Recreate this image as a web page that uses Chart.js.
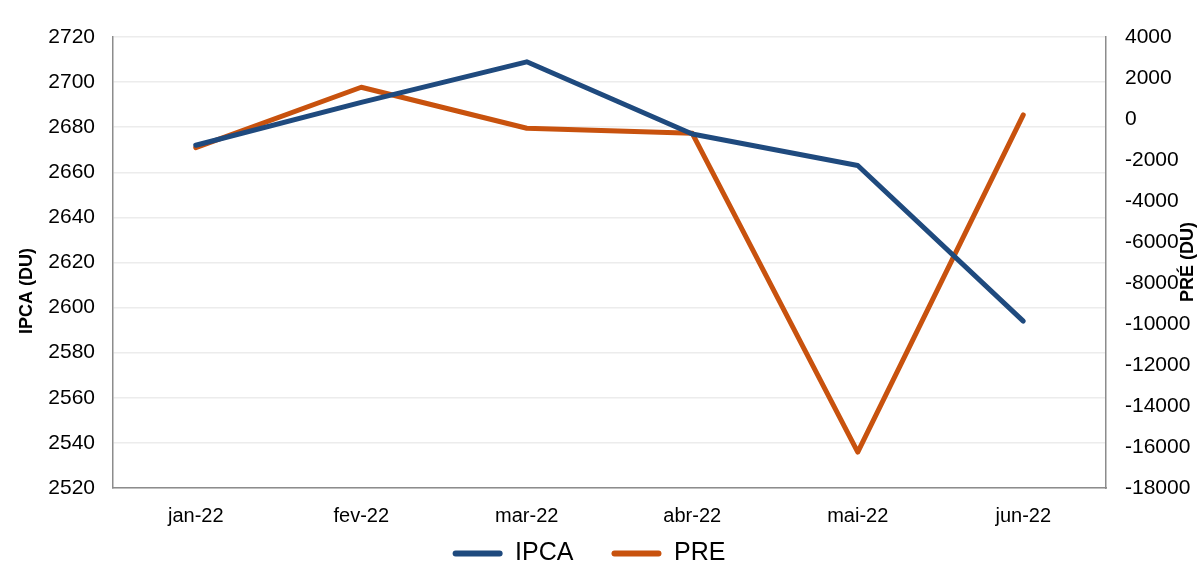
<!DOCTYPE html>
<html>
<head>
<meta charset="utf-8">
<script src="https://cdn.jsdelivr.net/npm/chart.js@4/dist/chart.umd.min.js"></script>
<style>
  html, body { margin: 0; padding: 0; background: #fff; }
  #wrap { width: 1198px; height: 567px; }
</style>
</head>
<body>
<div id="wrap"><canvas id="chart" width="1198" height="567"></canvas></div>
<script>
// Data
const months = ['jan-22', 'fev-22', 'mar-22', 'abr-22', 'mai-22', 'jun-22'];
const ipcaValues = [2672, 2691, 2709, 2677, 2663, 2594];
const preValues = [-1400, 1550, -450, -700, -16250, 200];

const BLUE = '#1F4A7E';
const ORANGE = '#C8520E';
const FONT = '"Liberation Sans", Arial, sans-serif';

// Axis titles drawn by hand (right one reads bottom-to-top) + legend nudge
const extras = {
  id: 'extras',
  afterLayout(chart) {
    const lg = chart.legend;
    if (!lg) return;
    const dx = -10, dy = -30;
    lg.left += dx; lg.right += dx;
    lg.top += dy;
    lg.bottom = chart.height;
  },
  afterDraw(chart) {
    const ctx = chart.ctx;
    const title = (text, x, y) => {
      ctx.save();
      ctx.fillStyle = '#000';
      ctx.font = 'bold 18px ' + FONT;
      ctx.textAlign = 'center';
      ctx.textBaseline = 'middle';
      ctx.translate(x, y);
      ctx.rotate(-Math.PI / 2);
      ctx.fillText(text, 0, 0);
      ctx.restore();
    };
    title('IPCA (DU)', 27, 291);
    title('PRÉ (DU)', 1188, 262);
  }
};

new Chart(document.getElementById('chart').getContext('2d'), {
  type: 'line',
  data: {
    labels: months,
    datasets: [
      {
        label: 'IPCA',
        data: ipcaValues,
        yAxisID: 'y',
        borderColor: BLUE,
        backgroundColor: BLUE,
        borderWidth: 5,
        borderCapStyle: 'round',
        borderJoinStyle: 'round',
        pointRadius: 0,
        tension: 0
      },
      {
        label: 'PRE',
        data: preValues,
        yAxisID: 'y2',
        borderColor: ORANGE,
        backgroundColor: ORANGE,
        borderWidth: 5,
        borderCapStyle: 'round',
        borderJoinStyle: 'round',
        pointRadius: 0,
        tension: 0
      }
    ]
  },
  options: {
    responsive: false,
    animation: false,
    layout: { padding: { top: 37, left: 0, right: 0, bottom: 0 } },
    plugins: {
      tooltip: { enabled: false },
      legend: {
        position: 'bottom',
        maxHeight: 34,
        labels: {
          boxWidth: 50,
          boxHeight: 6,
          useBorderRadius: true,
          borderRadius: 3,
          padding: 38,
          color: '#000',
          font: { family: FONT, size: 25 },
          generateLabels(chart) {
            const items = Chart.defaults.plugins.legend.labels.generateLabels(chart);
            items.forEach(i => { i.lineWidth = 0; i.fillStyle = i.strokeStyle; });
            return items;
          }
        }
      }
    },
    scales: {
      x: {
        offset: true,
        grid: { drawOnChartArea: false, drawTicks: false },
        border: { color: '#8c8c8c', width: 1.5 },
        ticks: {
          color: '#000',
          padding: 16,
          maxRotation: 0,
          font: { family: FONT, size: 20 }
        },
        afterFit(scale) { scale.height = 45; }
      },
      y: {
        position: 'left',
        min: 2520,
        max: 2720,
        grid: { color: '#ececec', lineWidth: 1.5, drawTicks: false },
        border: { color: '#8c8c8c', width: 1.5 },
        ticks: {
          stepSize: 20,
          color: '#000',
          padding: 18,
          font: { family: FONT, size: 21 },
          callback: v => String(v)
        },
        afterFit(scale) { scale.width = 113; }
      },
      y2: {
        position: 'right',
        min: -18000,
        max: 4000,
        grid: { drawOnChartArea: false, drawTicks: false },
        border: { color: '#8c8c8c', width: 1.5 },
        ticks: {
          stepSize: 2000,
          color: '#000',
          padding: 19,
          font: { family: FONT, size: 21 },
          callback: v => String(v)
        },
        afterFit(scale) { scale.width = 92; }
      }
    }
  },
  plugins: [extras]
});
</script>
</body>
</html>
